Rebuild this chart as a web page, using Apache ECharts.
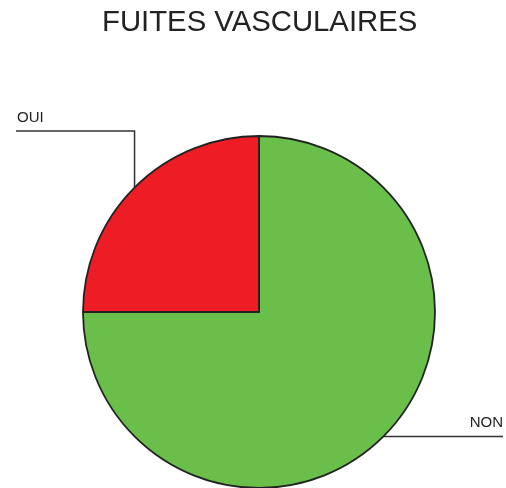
<!DOCTYPE html>
<html>
<head>
<meta charset="utf-8">
<script src="https://cdn.jsdelivr.net/npm/echarts@6/dist/echarts.min.js"></script>
<style>
html, body { margin: 0; padding: 0; background: #fff; }
#chart { width: 506px; height: 488px; }
</style>
</head>
<body>
<div id="chart"></div>
<script>
//分类与数值
var categories = ['NON', 'OUI'];
var values = [75, 25];
var colors = ['#6abf4b', '#ee1d25'];

var chart = echarts.init(document.getElementById('chart'));

var pieData = [];
for (var i = 0; i < categories.length; i++) {
	pieData.push({
		name: categories[i],
		value: values[i],
		itemStyle: { color: colors[i] }
	});
}

var option = {
	animation: false,
	title: {
		text: 'FUITES VASCULAIRES',
		left: 97,
		top: 3,
		textStyle: {
			fontFamily: 'Liberation Sans',
			fontSize: 29.3,
			fontWeight: 'normal',
			color: '#222'
		}
	},
	series: [{
		type: 'pie',
		center: [259, 312],
		radius: 176,
		startAngle: 90,
		clockwise: true,
		avoidLabelOverlap: false,
		data: pieData,
		itemStyle: {
			borderColor: '#222',
			borderWidth: 1.8
		},
		label: {
			show: true,
			position: 'outside',
			formatter: '{b}',
			fontFamily: 'Liberation Sans',
			fontSize: 15,
			color: '#222'
		},
		labelLine: {
			show: true,
			length: 20,
			length2: 20,
			lineStyle: { color: '#333', width: 1.5 }
		},
		emphasis: { disabled: true }
	}]
};

//自定义引导线位置
option.series[0].labelLayout = function(params) {
	var pts = params.labelLinePoints;
	if (!pts) return {};
	var p0 = pts[0];
	if (params.dataIndex == 1) {
		var topY = 131;
		return {
			x: 17,
			y: topY - 6,
			align: 'left',
			verticalAlign: 'bottom',
			labelLinePoints: [[p0[0], p0[1]], [p0[0], topY], [16, topY]]
		};
	} else {
		return {
			x: 503,
			y: p0[1] - 6,
			align: 'right',
			verticalAlign: 'bottom',
			labelLinePoints: [[p0[0], p0[1]], [450, p0[1]], [503, p0[1]]]
		};
	}
};

chart.setOption(option);
</script>
</body>
</html>
